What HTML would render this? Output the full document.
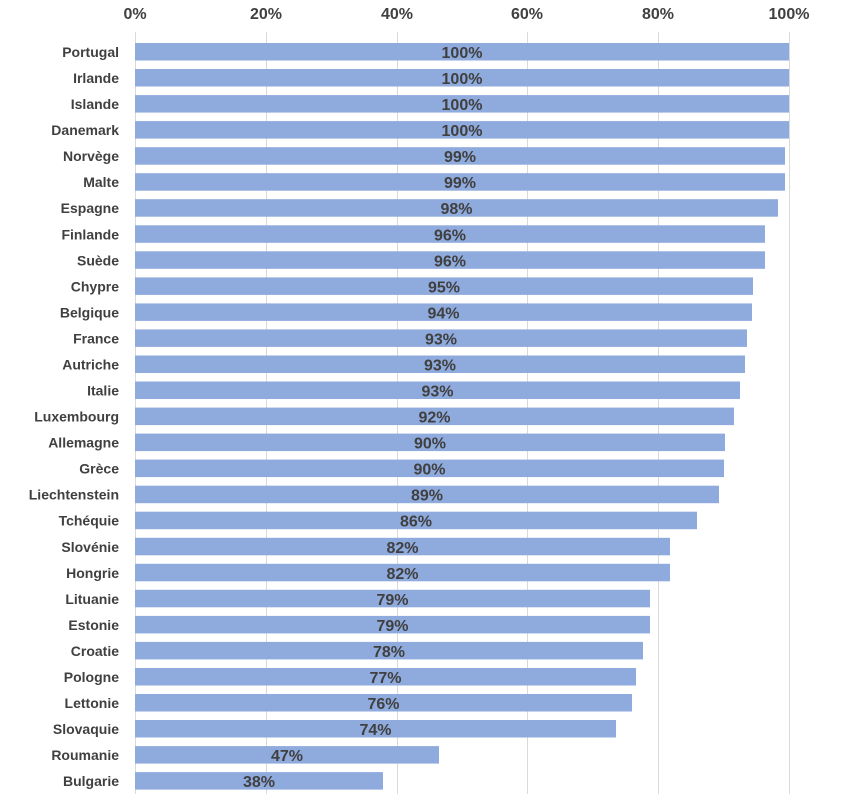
<!DOCTYPE html>
<html><head><meta charset="utf-8"><style>
html,body{margin:0;padding:0;background:#fff;}
svg{display:block;}
text{font-family:"Liberation Sans",sans-serif;font-weight:bold;fill:#404040;}
.c{font-size:14px;text-anchor:end;}
.v{font-size:16px;text-anchor:middle;}
rect{fill:#8faadc;}
</style></head><body>
<svg width="851" height="806" viewBox="0 0 851 806" xmlns="http://www.w3.org/2000/svg">
<g stroke="#d9d9d9" stroke-width="1">
<line x1="135.5" y1="32" x2="135.5" y2="794"/>
<line x1="266.5" y1="32" x2="266.5" y2="794"/>
<line x1="397.5" y1="32" x2="397.5" y2="794"/>
<line x1="527.5" y1="32" x2="527.5" y2="794"/>
<line x1="658.5" y1="32" x2="658.5" y2="794"/>
<line x1="789.5" y1="32" x2="789.5" y2="794"/>
</g>
<g class="v">
<text x="135" y="19">0%</text><text x="266" y="19">20%</text><text x="397" y="19">40%</text>
<text x="527" y="19">60%</text><text x="658" y="19">80%</text><text x="789" y="19">100%</text>
</g>
<g transform="translate(0,43)"><rect x="135" y="0" width="654" height="17.5"/><text class="c" x="119" y="14">Portugal</text><text class="v" x="462" y="15">100%</text></g>
<g transform="translate(0,69)"><rect x="135" y="0" width="654" height="17.5"/><text class="c" x="119" y="14">Irlande</text><text class="v" x="462" y="15">100%</text></g>
<g transform="translate(0,95.1)"><rect x="135" y="0" width="654" height="17.5"/><text class="c" x="119" y="14">Islande</text><text class="v" x="462" y="15">100%</text></g>
<g transform="translate(0,121.1)"><rect x="135" y="0" width="654" height="17.5"/><text class="c" x="119" y="14">Danemark</text><text class="v" x="462" y="15">100%</text></g>
<g transform="translate(0,147.2)"><rect x="135" y="0" width="650" height="17.5"/><text class="c" x="119" y="14">Norvège</text><text class="v" x="460" y="15">99%</text></g>
<g transform="translate(0,173.2)"><rect x="135" y="0" width="650" height="17.5"/><text class="c" x="119" y="14">Malte</text><text class="v" x="460" y="15">99%</text></g>
<g transform="translate(0,199.2)"><rect x="135" y="0" width="643" height="17.5"/><text class="c" x="119" y="14">Espagne</text><text class="v" x="456.5" y="15">98%</text></g>
<g transform="translate(0,225.3)"><rect x="135" y="0" width="630" height="17.5"/><text class="c" x="119" y="14">Finlande</text><text class="v" x="450" y="15">96%</text></g>
<g transform="translate(0,251.3)"><rect x="135" y="0" width="630" height="17.5"/><text class="c" x="119" y="14">Suède</text><text class="v" x="450" y="15">96%</text></g>
<g transform="translate(0,277.4)"><rect x="135" y="0" width="618" height="17.5"/><text class="c" x="119" y="14">Chypre</text><text class="v" x="444" y="15">95%</text></g>
<g transform="translate(0,303.4)"><rect x="135" y="0" width="617" height="17.5"/><text class="c" x="119" y="14">Belgique</text><text class="v" x="443.5" y="15">94%</text></g>
<g transform="translate(0,329.4)"><rect x="135" y="0" width="612" height="17.5"/><text class="c" x="119" y="14">France</text><text class="v" x="441" y="15">93%</text></g>
<g transform="translate(0,355.5)"><rect x="135" y="0" width="610" height="17.5"/><text class="c" x="119" y="14">Autriche</text><text class="v" x="440" y="15">93%</text></g>
<g transform="translate(0,381.5)"><rect x="135" y="0" width="605" height="17.5"/><text class="c" x="119" y="14">Italie</text><text class="v" x="437.5" y="15">93%</text></g>
<g transform="translate(0,407.6)"><rect x="135" y="0" width="599" height="17.5"/><text class="c" x="119" y="14">Luxembourg</text><text class="v" x="434.5" y="15">92%</text></g>
<g transform="translate(0,433.6)"><rect x="135" y="0" width="590" height="17.5"/><text class="c" x="119" y="14">Allemagne</text><text class="v" x="430" y="15">90%</text></g>
<g transform="translate(0,459.6)"><rect x="135" y="0" width="589" height="17.5"/><text class="c" x="119" y="14">Grèce</text><text class="v" x="429.5" y="15">90%</text></g>
<g transform="translate(0,485.7)"><rect x="135" y="0" width="584" height="17.5"/><text class="c" x="119" y="14">Liechtenstein</text><text class="v" x="427" y="15">89%</text></g>
<g transform="translate(0,511.7)"><rect x="135" y="0" width="562" height="17.5"/><text class="c" x="119" y="14">Tchéquie</text><text class="v" x="416" y="15">86%</text></g>
<g transform="translate(0,537.8)"><rect x="135" y="0" width="535" height="17.5"/><text class="c" x="119" y="14">Slovénie</text><text class="v" x="402.5" y="15">82%</text></g>
<g transform="translate(0,563.8)"><rect x="135" y="0" width="535" height="17.5"/><text class="c" x="119" y="14">Hongrie</text><text class="v" x="402.5" y="15">82%</text></g>
<g transform="translate(0,589.8)"><rect x="135" y="0" width="515" height="17.5"/><text class="c" x="119" y="14">Lituanie</text><text class="v" x="392.5" y="15">79%</text></g>
<g transform="translate(0,615.9)"><rect x="135" y="0" width="515" height="17.5"/><text class="c" x="119" y="14">Estonie</text><text class="v" x="392.5" y="15">79%</text></g>
<g transform="translate(0,641.9)"><rect x="135" y="0" width="508" height="17.5"/><text class="c" x="119" y="14">Croatie</text><text class="v" x="389" y="15">78%</text></g>
<g transform="translate(0,668)"><rect x="135" y="0" width="501" height="17.5"/><text class="c" x="119" y="14">Pologne</text><text class="v" x="385.5" y="15">77%</text></g>
<g transform="translate(0,694)"><rect x="135" y="0" width="497" height="17.5"/><text class="c" x="119" y="14">Lettonie</text><text class="v" x="383.5" y="15">76%</text></g>
<g transform="translate(0,720)"><rect x="135" y="0" width="481" height="17.5"/><text class="c" x="119" y="14">Slovaquie</text><text class="v" x="375.5" y="15">74%</text></g>
<g transform="translate(0,746.1)"><rect x="135" y="0" width="304" height="17.5"/><text class="c" x="119" y="14">Roumanie</text><text class="v" x="287" y="15">47%</text></g>
<g transform="translate(0,772.1)"><rect x="135" y="0" width="248" height="17.5"/><text class="c" x="119" y="14">Bulgarie</text><text class="v" x="259" y="15">38%</text></g>
</svg>
</body></html>
